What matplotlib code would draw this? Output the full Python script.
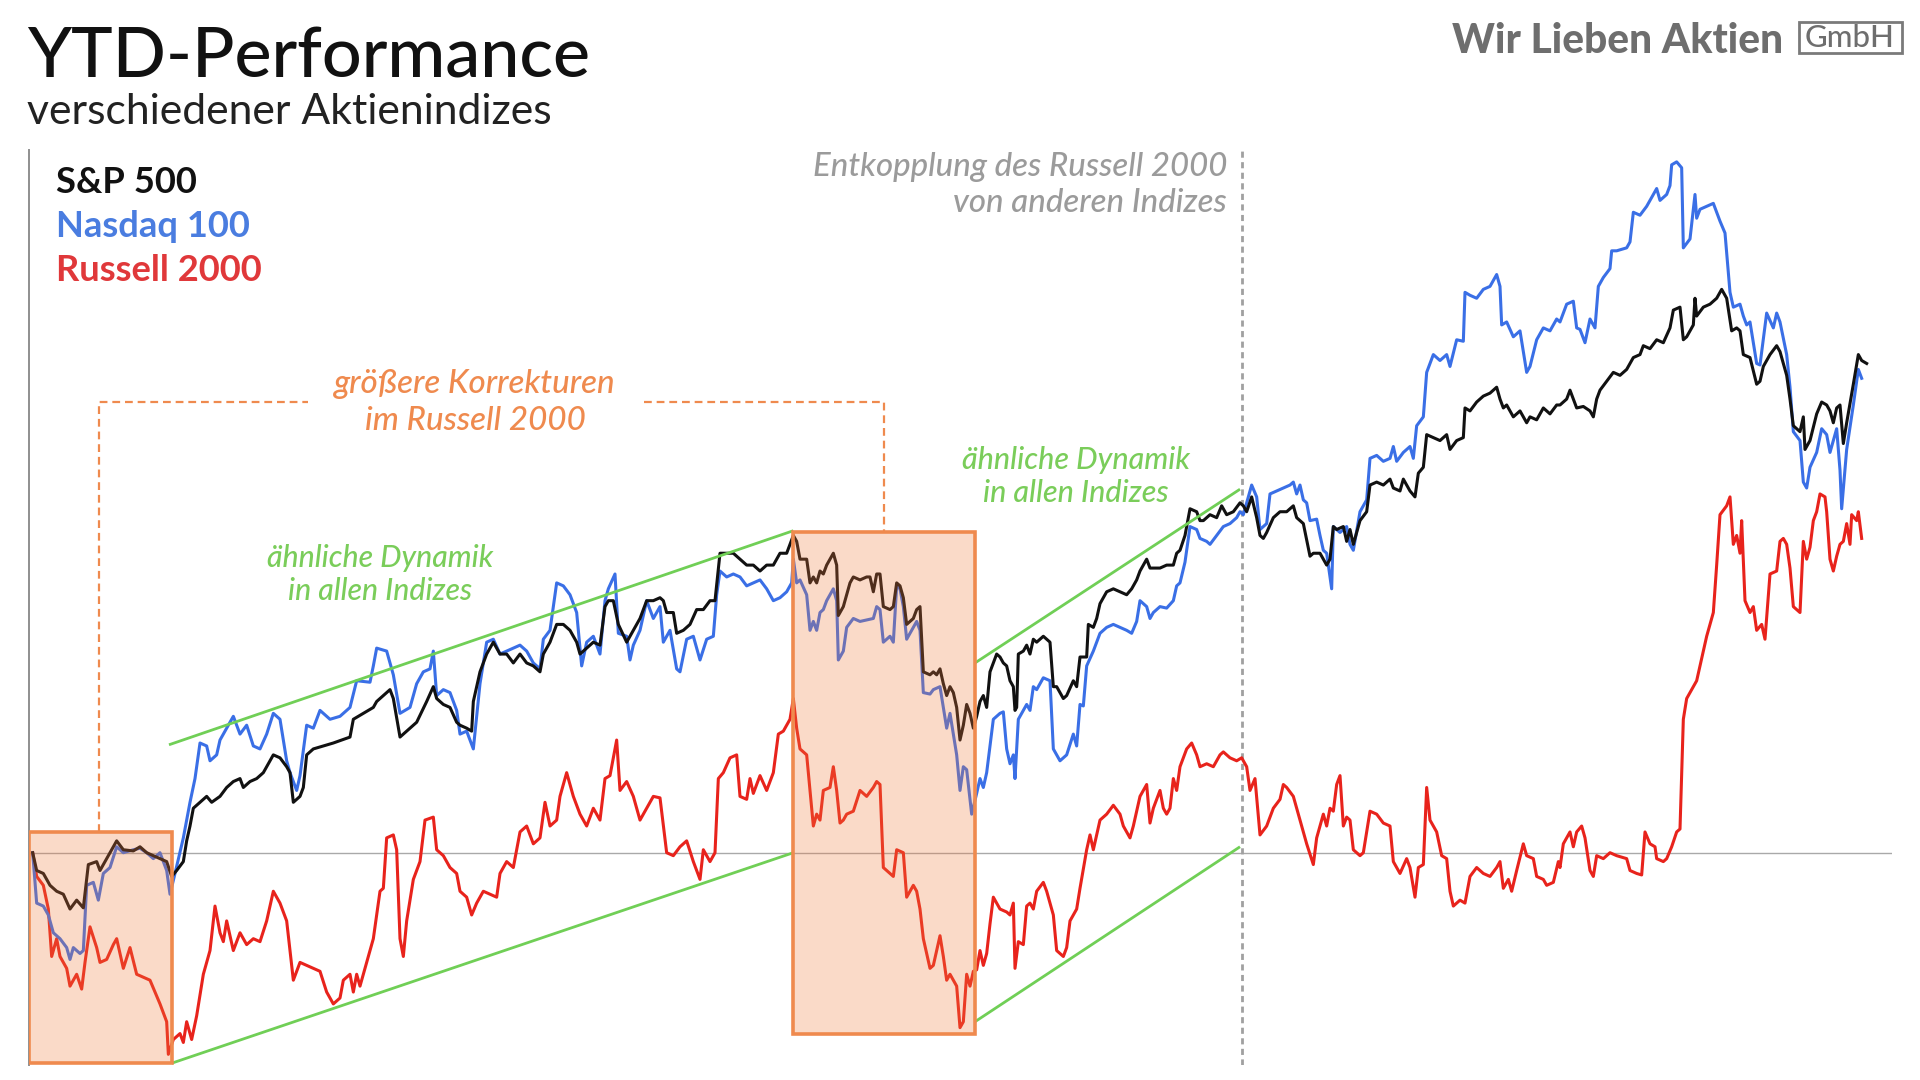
import matplotlib
matplotlib.use("Agg")
import matplotlib.pyplot as plt
from matplotlib.patches import Rectangle

plt.rcParams.update({"font.family": ["Lato", "DejaVu Sans"]})

W, H = 1920, 1080
BLACK, BLUE, RED = "#111111", "#3a6fe6", "#e8231c"
ORANGE, GREEN, GREY = "#ef8a4e", "#70cf56", "#9b9b9b"
BOX_TINT = "#f07a3c"

# time index (intraday samples, Jan - Aug) and YTD performance in %
t_spx = [38, 50, 70, 90, 110, 130, 150, 170, 190, 205,
         230, 240, 260, 280, 290, 310, 340, 360, 380, 400,
         420, 440, 455, 470, 490, 500, 510, 520, 540, 560,
         575, 600, 620, 640, 660, 670, 690, 710, 730, 760,
         780, 800, 810, 820, 840, 850, 860, 880, 940, 990,
         1000, 1030, 1060, 1070, 1110, 1120, 1140, 1190, 1220, 1240,
         1250, 1270, 1290, 1310, 1320, 1340, 1355, 1360, 1380, 1400,
         1420, 1440, 1460, 1480, 1500, 1520, 1540, 1560, 1570, 1590,
         1610, 1630, 1650, 1670, 1680, 1700, 1720, 1740, 1755, 1765,
         1780, 1795, 1820, 1840, 1860, 1880, 1900, 1920, 1930, 1940,
         1960, 1970, 1990, 2010, 2030, 2050, 2070, 2085, 2100, 2115,
         2140, 2160, 2180, 2200, 2220, 2240, 2260, 2280, 2300, 2320,
         2330, 2340, 2360, 2370, 2380, 2390, 2400, 2410, 2420, 2440,
         2450, 2455, 2470, 2480, 2490, 2500, 2520, 2540, 2550, 2560,
         2570, 2580, 2590, 2610, 2620, 2630, 2640, 2650, 2660, 2680,
         2690, 2700, 2710, 2730, 2740, 2750, 2760, 2770, 2780, 2790,
         2800, 2810, 2820, 2830, 2840, 2850, 2860, 2870, 2880, 2890,
         2900, 2910, 2930, 2940, 2950, 2960, 2970, 2980, 2985, 2990,
         2995, 3010, 3020, 3030, 3040, 3050, 3070, 3090, 3100, 3110,
         3130, 3140, 3160, 3170, 3180, 3200, 3205, 3220, 3230, 3240,
         3260, 3280, 3300, 3320, 3335, 3350, 3360, 3370, 3380, 3390,
         3400, 3420, 3440, 3460, 3470, 3480, 3495, 3510, 3530, 3540,
         3550, 3570, 3590, 3605, 3620, 3640, 3660, 3670, 3680, 3695,
         3710, 3720, 3730, 3740, 3760, 3780, 3800, 3820, 3830, 3850,
         3870, 3880, 3900, 3920, 3930, 3940, 3950, 3970, 3980, 3990,
         4000, 4020, 4040, 4050, 4070, 4090, 4110, 4120, 4140, 4150,
         4170, 4185, 4195, 4210, 4220, 4240, 4260, 4280, 4290, 4310,
         4330, 4335, 4350, 4370, 4390, 4410, 4430, 4440, 4450, 4460,
         4480, 4500, 4520, 4530, 4550, 4570, 4590, 4610, 4620, 4640,
         4650, 4660, 4670, 4690, 4710, 4720, 4730, 4740, 4760, 4780,
         4800, 4820, 4840, 4860, 4870, 4890, 4910, 4930, 4950, 4960,
         4980, 4990, 5000, 5020, 5025, 5030, 5050, 5070, 5090, 5105,
         5120, 5135, 5150, 5160, 5170, 5190, 5210, 5220, 5230, 5250,
         5270, 5280, 5300, 5310, 5320, 5340, 5350, 5355, 5370, 5390,
         5405, 5420, 5430, 5440, 5450, 5460, 5470, 5480, 5500, 5515,
         5525, 5540]
spx = [0.00, -0.60, -0.70, -1.10, -1.30, -1.40, -1.90, -1.60, -1.86, -0.40,
       -0.30, -0.60, -0.20, 0.20, 0.40, 0.10, 0.06, 0.20, 0.00, -0.10,
       -0.20, -0.30, -0.80, -0.60, -0.30, 0.40, 0.90, 1.50, 1.70, 1.90,
       1.70, 1.90, 2.20, 2.40, 2.50, 2.20, 2.40, 2.50, 2.70, 3.30,
       3.20, 2.90, 2.70, 1.70, 1.90, 2.20, 3.30, 3.50, 3.70, 3.90,
       4.50, 4.70, 4.90, 5.10, 5.50, 5.20, 3.90, 4.40, 5.10, 5.60,
       5.20, 5.00, 4.90, 4.40, 4.30, 4.20, 4.10, 5.10, 6.10, 6.70,
       7.10, 6.70, 6.70, 6.40, 6.70, 6.40, 6.30, 6.10, 6.70, 7.10,
       7.70, 7.70, 7.50, 7.10, 6.70, 6.90, 7.10, 7.00, 8.30, 8.50,
       8.50, 7.70, 7.10, 7.50, 7.90, 8.50, 8.50, 8.60, 8.50, 8.10,
       8.10, 7.40, 7.50, 7.70, 8.20, 8.20, 8.50, 8.50, 10.10, 10.10,
       10.10, 9.90, 9.70, 9.70, 9.50, 9.70, 9.70, 10.10, 10.10, 10.70,
       10.50, 9.90, 9.90, 9.10, 9.30, 9.10, 9.50, 9.40, 9.70, 10.10,
       9.70, 8.00, 8.30, 8.70, 9.10, 9.30, 9.20, 9.30, 9.30, 8.80,
       9.40, 9.40, 8.30, 8.20, 8.30, 9.10, 9.00, 8.60, 7.70, 7.90,
       8.20, 8.30, 6.10, 6.00, 6.10, 6.00, 6.20, 5.70, 5.30, 5.60,
       5.40, 4.90, 3.80, 4.30, 5.00, 4.70, 4.20, 4.60, 5.10, 5.30,
       4.90, 6.10, 6.70, 6.60, 6.40, 6.30, 5.80, 5.60, 4.80, 4.90,
       6.70, 6.80, 7.00, 6.70, 7.20, 7.10, 7.30, 7.10, 5.60, 5.60,
       5.20, 5.30, 5.80, 5.60, 6.60, 6.60, 7.70, 7.60, 7.90, 8.40,
       8.80, 8.90, 8.80, 8.70, 8.90, 9.20, 9.50, 9.70, 9.90, 9.60,
       9.60, 9.60, 9.70, 9.70, 10.10, 10.20, 10.70, 11.60, 11.50, 11.20,
       11.20, 11.40, 11.30, 11.70, 11.40, 11.50, 11.80, 11.70, 11.50, 12.00,
       11.30, 10.70, 10.60, 10.80, 11.30, 11.50, 11.50, 11.70, 11.30, 11.10,
       10.00, 10.10, 10.10, 9.70, 9.90, 11.00, 10.90, 11.00, 10.50, 10.90,
       10.40, 11.20, 11.50, 12.40, 12.50, 12.40, 12.60, 12.30, 12.20, 12.60,
       12.20, 12.00, 12.80, 13.00, 14.10, 14.00, 13.90, 14.10, 13.60, 13.90,
       14.00, 15.00, 14.90, 15.20, 15.40, 15.50, 15.70, 15.30, 15.00, 15.10,
       14.70, 14.90, 14.50, 14.70, 14.60, 15.00, 14.80, 15.10, 15.10, 15.30,
       15.60, 15.30, 15.00, 15.05, 14.90, 14.70, 15.30, 15.60, 15.90, 16.20,
       16.10, 16.30, 16.70, 16.80, 17.10, 17.00, 17.30, 17.20, 17.70, 18.30,
       18.40, 17.30, 17.40, 17.80, 18.70, 18.10, 18.40, 18.50, 18.70, 19.00,
       18.70, 17.60, 17.70, 17.60, 16.80, 16.70, 15.80, 15.90, 16.40, 16.80,
       17.10, 16.90, 16.10, 15.30, 14.40, 14.20, 14.70, 13.60, 13.90, 14.80,
       15.20, 15.10, 14.90, 14.50, 15.00, 15.10, 13.80, 14.50, 15.80, 16.80,
       16.60, 16.50]

t_ndx = [38, 50, 70, 85, 100, 120, 140, 150, 160, 180,
         190, 200, 220, 235, 250, 270, 290, 310, 340, 360,
         380, 400, 420, 440, 450, 465, 490, 510, 525, 540,
         560, 570, 590, 600, 620, 640, 660, 680, 700, 720,
         740, 760, 780, 800, 810, 830, 840, 860, 880, 900,
         930, 960, 990, 1010, 1050, 1060, 1070, 1100, 1120, 1140,
         1170, 1190, 1210, 1230, 1240, 1250, 1270, 1290, 1310, 1320,
         1340, 1360, 1380, 1400, 1420, 1440, 1460, 1480, 1500, 1520,
         1540, 1560, 1570, 1590, 1610, 1630, 1650, 1670, 1685, 1700,
         1720, 1740, 1755, 1765, 1785, 1795, 1820, 1830, 1840, 1860,
         1880, 1900, 1920, 1930, 1950, 1970, 1980, 2000, 2020, 2040,
         2060, 2080, 2090, 2100, 2120, 2140, 2160, 2180, 2200, 2220,
         2240, 2260, 2280, 2300, 2315, 2320, 2330, 2340, 2360, 2370,
         2380, 2390, 2400, 2410, 2420, 2440, 2450, 2455, 2470, 2480,
         2500, 2520, 2540, 2560, 2570, 2580, 2590, 2610, 2620, 2630,
         2640, 2650, 2660, 2680, 2690, 2700, 2710, 2730, 2740, 2760,
         2770, 2780, 2790, 2800, 2810, 2820, 2830, 2840, 2855, 2870,
         2880, 2890, 2900, 2920, 2930, 2940, 2950, 2960, 2970, 2980,
         2985, 2995, 3010, 3020, 3030, 3040, 3050, 3070, 3090, 3100,
         3120, 3140, 3160, 3170, 3180, 3190, 3200, 3220, 3240, 3260,
         3280, 3300, 3320, 3335, 3350, 3360, 3380, 3390, 3400, 3420,
         3440, 3460, 3470, 3480, 3495, 3510, 3530, 3540, 3560, 3570,
         3590, 3610, 3630, 3650, 3660, 3670, 3695, 3710, 3720, 3730,
         3740, 3750, 3770, 3790, 3810, 3820, 3830, 3840, 3850, 3860,
         3870, 3890, 3900, 3910, 3920, 3935, 3940, 3960, 3980, 3990,
         4000, 4020, 4040, 4050, 4070, 4090, 4110, 4120, 4130, 4150,
         4170, 4180, 4190, 4210, 4220, 4240, 4260, 4280, 4290, 4310,
         4330, 4335, 4350, 4370, 4390, 4410, 4430, 4440, 4445, 4460,
         4480, 4500, 4510, 4520, 4530, 4550, 4570, 4590, 4610, 4620,
         4640, 4660, 4670, 4680, 4695, 4710, 4725, 4735, 4750, 4770,
         4775, 4790, 4820, 4830, 4840, 4860, 4880, 4900, 4910, 4920,
         4940, 4950, 4955, 4970, 4985, 4990, 5010, 5025, 5030, 5040,
         5060, 5080, 5100, 5115, 5130, 5140, 5160, 5170, 5180, 5190,
         5210, 5220, 5240, 5260, 5270, 5280, 5300, 5310, 5320, 5340,
         5350, 5360, 5370, 5390, 5405, 5420, 5430, 5450, 5460, 5465,
         5480, 5500, 5515, 5525]
ndx = [0.00, -1.70, -1.80, -2.10, -2.70, -2.90, -3.20, -3.60, -3.20, -3.40,
       -3.30, -1.10, -1.00, -1.60, -0.70, -0.50, 0.20, 0.00, 0.10, 0.15,
       0.00, -0.20, 0.00, -0.60, -1.40, -0.70, 0.50, 1.70, 2.50, 3.70,
       3.60, 3.10, 3.30, 3.80, 4.20, 4.60, 4.00, 4.30, 3.60, 3.50,
       4.00, 4.70, 4.50, 3.10, 2.70, 2.10, 2.60, 4.30, 4.20, 4.80,
       4.50, 4.60, 4.90, 5.80, 5.75, 6.30, 6.90, 6.80, 6.00, 4.70,
       4.90, 5.70, 6.10, 6.20, 6.80, 5.30, 5.50, 5.40, 4.80, 4.00,
       4.10, 3.50, 5.70, 7.10, 7.20, 6.70, 6.80, 6.90, 7.00, 6.80,
       6.40, 6.20, 7.20, 7.50, 9.10, 9.00, 8.70, 8.10, 6.30, 7.10,
       7.30, 6.70, 8.50, 8.90, 9.40, 7.40, 7.30, 6.50, 7.00, 7.50,
       8.50, 7.90, 8.30, 7.10, 7.50, 6.20, 6.10, 7.20, 7.30, 6.50,
       7.20, 7.30, 8.70, 9.50, 9.30, 9.40, 9.30, 9.00, 9.10, 9.20,
       8.90, 8.50, 8.60, 8.80, 9.10, 9.90, 9.10, 9.20, 8.70, 7.50,
       7.80, 7.50, 8.10, 8.20, 8.50, 8.90, 8.50, 6.50, 6.80, 7.60,
       7.90, 7.80, 7.85, 7.90, 8.30, 8.20, 7.10, 7.30, 7.10, 9.00,
       8.90, 8.30, 7.20, 7.60, 7.80, 7.50, 5.40, 5.35, 5.50, 5.60,
       4.90, 4.20, 4.70, 4.00, 3.30, 2.10, 2.90, 2.80, 1.30, 2.00,
       2.50, 2.20, 2.70, 4.50, 4.60, 4.70, 4.75, 3.50, 3.00, 3.30,
       2.50, 4.50, 4.80, 5.00, 4.80, 5.60, 5.50, 5.90, 5.80, 3.50,
       3.10, 3.30, 4.00, 3.60, 5.00, 4.95, 6.30, 6.80, 7.40, 7.60,
       7.70, 7.60, 7.50, 7.40, 7.80, 8.50, 8.30, 7.90, 8.10, 8.30,
       8.25, 8.50, 9.00, 9.10, 9.80, 11.00, 10.90, 10.60, 10.50, 10.40,
       10.70, 11.00, 11.10, 11.30, 11.50, 11.40, 12.40, 12.00, 10.90, 11.00,
       11.10, 12.10, 12.20, 12.30, 12.40, 12.50, 12.10, 12.40, 11.90, 11.80,
       11.20, 11.25, 10.70, 10.20, 10.10, 8.90, 11.00, 10.80, 11.00, 10.40,
       10.20, 11.50, 11.90, 13.30, 13.40, 13.20, 13.30, 13.70, 13.20, 13.50,
       13.70, 13.30, 14.40, 14.70, 16.20, 16.80, 16.60, 16.80, 16.40, 17.30,
       17.25, 18.90, 18.80, 18.70, 19.00, 19.10, 19.50, 19.10, 17.80, 17.90,
       17.40, 17.60, 16.90, 16.20, 16.40, 17.30, 17.70, 17.60, 18.00, 17.90,
       18.50, 18.60, 17.70, 17.65, 17.20, 18.00, 17.70, 19.10, 19.40, 19.70,
       20.30, 20.30, 20.40, 20.60, 21.60, 21.50, 21.80, 22.20, 22.40, 22.00,
       22.20, 22.50, 23.20, 23.30, 23.10, 20.40, 20.70, 22.20, 21.40, 21.70,
       21.80, 21.90, 21.30, 20.90, 18.90, 18.40, 18.50, 18.10, 17.80, 17.90,
       16.50, 16.45, 18.20, 17.70, 18.20, 17.90, 16.80, 15.70, 14.20, 13.90,
       12.50, 12.30, 13.00, 13.50, 14.30, 14.10, 13.50, 14.30, 12.90, 11.60,
       13.60, 15.10, 16.30, 16.00]

t_rut = [38, 50, 70, 85, 95, 110, 120, 140, 150, 170,
         185, 195, 210, 230, 240, 260, 280, 290, 310, 330,
         350, 370, 390, 420, 440, 445, 460, 480, 490, 500,
         515, 530, 550, 570, 585, 600, 610, 620, 640, 660,
         680, 700, 720, 740, 760, 780, 800, 820, 840, 860,
         880, 900, 920, 940, 960, 970, 990, 1000, 1010, 1020,
         1040, 1060, 1080, 1090, 1100, 1120, 1130, 1140, 1150, 1160,
         1180, 1200, 1215, 1240, 1250, 1270, 1290, 1310, 1320, 1340,
         1355, 1370, 1390, 1410, 1430, 1440, 1460, 1480, 1500, 1520,
         1540, 1560, 1575, 1590, 1610, 1620, 1640, 1660, 1680, 1700,
         1720, 1740, 1755, 1770, 1790, 1800, 1820, 1840, 1860, 1880,
         1900, 1920, 1940, 1960, 1980, 2000, 2020, 2040, 2050, 2070,
         2085, 2095, 2110, 2130, 2150, 2160, 2180, 2190, 2200, 2220,
         2240, 2260, 2275, 2290, 2310, 2320, 2330, 2340, 2360, 2370,
         2380, 2390, 2400, 2410, 2430, 2440, 2450, 2460, 2470, 2480,
         2500, 2520, 2540, 2560, 2570, 2580, 2590, 2600, 2620, 2630,
         2650, 2660, 2680, 2690, 2700, 2710, 2730, 2740, 2760, 2770,
         2780, 2790, 2800, 2810, 2820, 2830, 2840, 2850, 2860, 2870,
         2880, 2890, 2900, 2910, 2920, 2940, 2960, 2970, 2980, 2985,
         2995, 3010, 3020, 3030, 3040, 3050, 3070, 3080, 3100, 3110,
         3130, 3140, 3150, 3170, 3180, 3200, 3210, 3220, 3240, 3260,
         3280, 3300, 3310, 3330, 3340, 3360, 3380, 3390, 3400, 3420,
         3430, 3440, 3450, 3460, 3470, 3480, 3500, 3515, 3530, 3540,
         3560, 3580, 3600, 3610, 3630, 3650, 3665, 3680, 3690, 3705,
         3720, 3740, 3760, 3780, 3790, 3800, 3820, 3840, 3860, 3880,
         3890, 3910, 3920, 3930, 3940, 3950, 3960, 3970, 3980, 3990,
         4000, 4020, 4030, 4040, 4050, 4070, 4090, 4110, 4120, 4140,
         4160, 4170, 4185, 4195, 4210, 4220, 4230, 4250, 4265, 4280,
         4290, 4300, 4320, 4335, 4350, 4370, 4390, 4410, 4430, 4440,
         4450, 4465, 4475, 4490, 4510, 4520, 4540, 4550, 4570, 4580,
         4600, 4615, 4620, 4630, 4650, 4660, 4670, 4685, 4695, 4710,
         4720, 4730, 4750, 4770, 4790, 4820, 4830, 4850, 4865, 4875,
         4890, 4905, 4910, 4930, 4940, 4955, 4970, 4980, 4990, 5000,
         5020, 5030, 5040, 5060, 5080, 5090, 5100, 5120, 5130, 5140,
         5150, 5160, 5165, 5175, 5190, 5200, 5210, 5225, 5235, 5250,
         5270, 5280, 5290, 5300, 5310, 5320, 5330, 5340, 5350, 5360,
         5370, 5380, 5390, 5400, 5415, 5420, 5430, 5440, 5450, 5460,
         5470, 5480, 5490, 5495, 5510, 5515, 5525]
rut = [0.00, -0.80, -1.10, -1.90, -3.50, -2.90, -3.50, -3.90, -4.50, -4.10,
       -4.60, -3.70, -2.50, -3.20, -3.70, -3.60, -3.10, -2.90, -3.90, -3.20,
       -4.10, -4.20, -4.30, -5.10, -5.70, -6.80, -6.30, -6.10, -6.40, -5.70,
       -6.30, -5.50, -4.10, -3.30, -1.80, -2.70, -3.00, -2.30, -3.30, -2.70,
       -3.10, -2.90, -3.00, -2.30, -1.30, -1.70, -2.30, -4.30, -3.70, -3.80,
       -3.90, -4.00, -4.70, -5.10, -4.90, -4.30, -4.10, -4.70, -4.10, -4.50,
       -3.70, -2.90, -1.30, -1.20, 0.50, 0.60, 0.10, -2.90, -3.50, -2.30,
       -0.90, -0.30, 1.10, 1.20, 0.10, -0.10, -0.50, -0.70, -1.30, -1.50,
       -2.10, -1.70, -1.30, -1.40, -1.50, -0.70, -0.30, -0.50, 0.70, 0.90,
       0.30, 0.50, 1.70, 0.90, 1.10, 1.90, 2.70, 1.90, 1.30, 0.90,
       1.50, 1.10, 2.50, 2.60, 3.80, 2.10, 2.40, 1.90, 1.10, 1.50,
       1.90, 1.85, 0.00, -0.10, 0.20, 0.40, -0.30, -0.90, 0.10, -0.30,
       0.00, 2.50, 2.70, 3.20, 3.30, 1.90, 1.80, 2.50, 2.00, 2.60,
       2.10, 2.70, 4.00, 4.10, 4.50, 5.20, 4.20, 3.50, 3.30, 2.10,
       0.90, 1.30, 1.10, 2.10, 2.20, 2.90, 2.10, 1.00, 1.10, 1.30,
       1.40, 2.10, 1.90, 2.20, 2.40, 2.30, -0.50, -0.60, -0.80, 0.10,
       0.00, -1.50, -1.10, -1.30, -1.90, -2.90, -3.90, -3.80, -2.80, -3.50,
       -4.30, -4.10, -4.30, -4.50, -5.90, -5.70, -4.10, -4.50, -4.00, -3.95,
       -3.30, -3.80, -3.40, -2.40, -1.50, -1.90, -2.00, -2.10, -1.70, -3.90,
       -3.00, -3.10, -1.80, -1.70, -1.90, -1.30, -1.00, -1.30, -2.10, -3.30,
       -3.50, -3.20, -2.30, -1.90, -1.20, 0.10, 0.60, 0.10, 1.10, 1.30,
       1.60, 1.30, 0.90, 0.50, 0.90, 1.90, 2.30, 1.00, 1.50, 2.10,
       1.50, 1.30, 1.50, 2.50, 2.10, 2.90, 3.50, 3.70, 3.30, 2.90,
       3.00, 2.90, 3.30, 3.40, 3.20, 3.10, 3.20, 2.90, 2.10, 2.50,
       0.60, 0.90, 1.50, 1.80, 2.30, 2.20, 1.90, 1.10, 0.30, -0.40,
       0.50, 1.30, 0.90, 1.50, 1.40, 2.30, 2.60, 0.90, 1.20, 1.10,
       0.10, -0.10, 0.00, 0.70, 1.40, 1.30, 1.00, 0.90, -0.30, -0.70,
       -0.20, -0.50, -1.50, -0.50, -0.40, 2.20, 1.10, 0.70, -0.10, -0.20,
       -1.30, -1.80, -1.60, -1.70, -0.80, -0.50, -0.70, -0.80, -0.50, -0.30,
       -1.20, -0.90, -1.30, -0.60, 0.30, -0.10, -0.20, -0.80, -0.90, -1.10,
       -1.00, -0.30, -0.50, 0.30, 0.70, 0.20, 0.70, 0.90, 0.50, -0.60,
       -0.80, -0.10, -0.20, 0.00, -0.10, -0.20, -0.60, -0.70, -0.75, 0.70,
       0.30, 0.20, -0.20, -0.30, -0.20, 0.20, 0.70, 0.80, 4.50, 5.20,
       5.60, 5.80, 6.30, 7.30, 8.10, 9.70, 11.40, 11.70, 12.00, 10.40,
       10.70, 10.10, 11.20, 8.50, 8.10, 8.30, 7.50, 7.70, 7.20, 9.40,
       9.50, 10.50, 10.60, 10.40, 9.60, 8.30, 8.20, 8.10, 10.50, 9.90,
       10.30, 11.20, 11.50, 12.10, 12.00, 11.50, 9.90, 9.50, 10.00, 10.40,
       10.50, 11.10, 10.40, 11.40, 11.20, 11.50, 10.60]

series = [(t_rut, rut, RED), (t_ndx, ndx, BLUE), (t_spx, spx, BLACK)]
boxes = [(27, 455, -7.1, 0.7), (2320, 2865, -6.1, 10.8)]

fig = plt.figure(figsize=(W / 100, H / 100), dpi=100)
ax = fig.add_axes([29 / W, 1 - 1065 / H, (1892 - 29) / W, (1065 - 150) / H])
ax.set_xlim(27, 5616)
ax.set_ylim(-7.16, 23.7)
for s in ["top", "right", "bottom"]:
    ax.spines[s].set_visible(False)
ax.spines["left"].set_color("#8f8f8f")
ax.spines["left"].set_linewidth(1.4)
ax.set_xticks([])
ax.set_yticks([])

ax.axhline(0, color="#a9a9a9", lw=1.0, zorder=2)
ax.axvline(3666, color="#a0a0a0", lw=2.0, ls=(0, (2.2, 1.6)), zorder=2)

LW = 2.2
for t, v, c in series:
    ax.plot(t, v, color=c, lw=LW, zorder=3, solid_joinstyle="round")

# shaded correction boxes, tint laid over the lines
for x0, x1, y0, y1 in boxes:
    ax.add_patch(Rectangle((x0, y0), x1 - x0, y1 - y0, facecolor=BOX_TINT,
                           alpha=0.28, edgecolor="none", zorder=5))
    ax.add_patch(Rectangle((x0, y0), x1 - x0, y1 - y0, fill=False,
                           edgecolor=ORANGE, lw=2.6, zorder=6))

# bracket linking the two corrections
dash = (0, (3.5, 2.2))
ax.plot([237, 237, 865], [0.7, 15.2, 15.2], color=ORANGE, lw=1.6, ls=dash, zorder=2)
ax.plot([1872, 2592, 2592], [15.2, 15.2, 10.8], color=ORANGE, lw=1.6, ls=dash, zorder=2)

# trend channels
for (xa, ya), (xb, yb) in [((447, 3.64), (2320, 10.86)), ((455, -7.1), (2320, 0.0)),
                           ((2865, 6.4), (3660, 12.26)), ((2865, -5.7), (3660, 0.2))]:
    ax.plot([xa, xb], [ya, yb], color=GREEN, lw=2.0, zorder=4.5, solid_capstyle="butt")


def put(x, y, s, **kw):
    return fig.text(x / W, 1 - y / H, s, va="baseline", **kw)


renderer = fig.canvas.get_renderer()


def fit(txts, width_px):
    w = txts[0].get_window_extent(renderer).width
    size = txts[0].get_fontsize() * width_px / w
    for t in txts:
        t.set_fontsize(size)


fit([put(27, 77, "YTD-Performance", fontsize=40, weight="medium", color="#111111")], 563)
fit([put(27, 124, "verschiedener Aktienindizes", fontsize=20, weight="normal",
         color="#222222")], 528)
fit([put(1783, 53, "Wir Lieben Aktien", fontsize=24, weight="black", ha="right",
         color="#6e6e6e")], 331)
fit([put(1850, 47, "GmbH", fontsize=16, ha="center", weight="medium",
         color="#6e6e6e")], 90)
fig.add_artist(Rectangle((1799 / W, 1 - 53 / H), 103 / W, 31 / H, fill=False,
                         edgecolor="#7a7a7a", lw=2.0, transform=fig.transFigure))

leg = [put(56, 281, "Russell 2000", fontsize=20, weight="bold", color="#e0383a"),
       put(56, 193, "S&P 500", fontsize=20, weight="bold", color="#111111"),
       put(56, 237, "Nasdaq 100", fontsize=20, weight="bold", color="#4a7de0")]
fit(leg, 207)

fit([put(475, 393, "größere Korrekturen", fontsize=16, ha="center", style="italic",
         weight="medium", color=ORANGE),
     put(475, 430, "im Russell 2000", fontsize=16, ha="center", style="italic",
         weight="medium", color=ORANGE)], 283)
for cx, b1, b2, w in [(380, 567, 600, 227), (1076, 469, 502, 229)]:
    fit([put(cx, b1, "ähnliche Dynamik", fontsize=16, ha="center", style="italic",
             weight="medium", color="#7acd5a"),
         put(cx, b2, "in allen Indizes", fontsize=16, ha="center", style="italic",
             weight="medium", color="#7acd5a")], w)
fit([put(1227, 176, "Entkopplung des Russell 2000", fontsize=16, ha="right",
         style="italic", weight="medium", color=GREY),
     put(1227, 212, "von anderen Indizes", fontsize=16, ha="right",
         style="italic", weight="medium", color=GREY)], 416)

fig.savefig("out.png", dpi=100, facecolor="white")
